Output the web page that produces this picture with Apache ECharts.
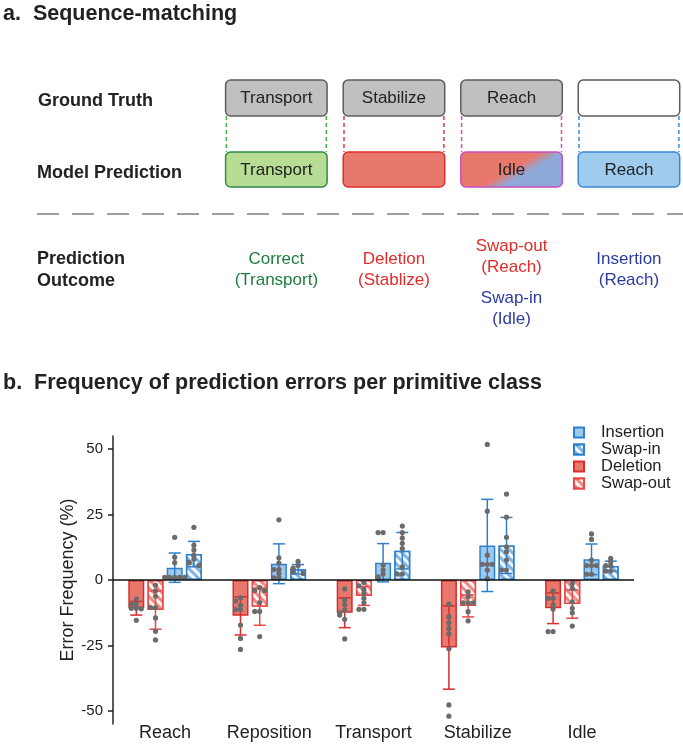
<!DOCTYPE html>
<html><head><meta charset="utf-8">
<script src="https://cdn.jsdelivr.net/npm/echarts@6/dist/echarts.min.js"></script>
<style>html,body{margin:0;padding:0;background:#fff}#c{width:683px;height:745px}</style>
</head><body><div id="c"></div>
<script>
// ---------- data ----------
const categories = ['Reach', 'Reposition', 'Transport', 'Stabilize', 'Idle'];
const yTickValues = [-50, -25, 0, 25, 50];
const legendOrder = ['Insertion', 'Swap-in', 'Deletion', 'Swap-out'];
const barOrder = ['Deletion', 'Swap-out', 'Insertion', 'Swap-in'];

const deletionMean = [-10.8, -13.7, -12.5, -25.8, -10.8];
const deletionSD = [2.6, 7.3, 5.7, 15.9, 5.85];
const swapOutMean = [-11.5, -10.2, -6.1, -9.9, -9.2];
const swapOutSD = [7.3, 7.1, 3.6, 4.2, 5.4];
const insertionMean = [4.7, 6.2, 6.6, 13.2, 7.9];
const insertionSD = [5.6, 7.6, 7.3, 17.6, 5.85];
const swapInMean = [9.9, 4.1, 11.2, 13.2, 5.3];
const swapInSD = [4.85, 1.8, 6.95, 10.7, 1.9];

const deletionDots = [
  [-7.3, -9.2, -9.2, -10.8, -10.8, -11.0, -15.4],
  [-6.8, -8.0, -9.6, -11.3, -11.3, -17.2, -22.3, -26.5],
  [-3.4, -7.6, -9.5, -11.5, -12.5, -13.4, -15.0, -22.5],
  [-9.2, -14.0, -16.3, -18.5, -20.6, -26.3, -47.7, -52.0],
  [-4.2, -7.0, -7.0, -9.5, -11.1, -19.7, -19.7]
];
const swapOutDots = [
  [-2.0, -4.1, -6.2, -10.5, -10.5, -14.5, -19.6, -22.9],
  [-2.9, -4.0, -4.0, -8.6, -12.0, -12.0, -21.6],
  [-1.0, -2.2, -3.6, -5.1, -7.0, -8.7, -11.2, -11.2],
  [-4.5, -6.4, -8.7, -8.7, -8.7, -12.1, -15.6],
  [-1.3, -3.2, -8.3, -10.8, -12.5, -17.6]
];
const insertionDots = [
  [16.3, 8.7, 6.6, 1.0, 1.0, 1.0, 1.0, 1.0],
  [23.0, 8.5, 6.5, 4.0, 4.0, 2.5, 0.8, 0.8],
  [18.1, 18.1, 5.7, 3.8, 2.3, 1.2, 0.6],
  [51.8, 26.3, 9.5, 6.0, 6.0, 6.0, 3.8, 0.5],
  [17.6, 15.5, 7.6, 5.5, 5.5, 5.5, 2.2, 2.2]
];
const swapInDots = [
  [20.1, 13.3, 11.5, 9.5, 8.0, 6.7, 6.5, 5.5],
  [7.1, 5.5, 4.5, 3.8, 3.0, 2.5],
  [20.6, 18.1, 16.0, 14.0, 12.0, 5.0, 2.3, 2.3],
  [32.8, 24.0, 16.3, 12.7, 10.8, 7.6, 3.8, 3.8],
  [8.3, 7.0, 5.5, 5.5, 3.4, 3.4]
];

// Panel a texts
const gtLabels = ['Transport', 'Stabilize', 'Reach', ''];
const mpLabels = ['Transport', '', 'Idle', 'Reach'];

// ---------- styles ----------
const FONT = "'Liberation Sans', Arial, Helvetica, sans-serif";
const TXT = '#222';
const RED_D = '#dc2b2b', RED_S = '#e84848', BLUE = '#2f80cc';
const means = [deletionMean, swapOutMean, insertionMean, swapInMean];
const sds = [deletionSD, swapOutSD, insertionSD, swapInSD];
const dots = [deletionDots, swapOutDots, insertionDots, swapInDots];
const errColors = [RED_D, RED_S, BLUE, BLUE];
const BAR_W = 16, BAR_GAP = 3.2;

const hatch = {
  symbol: 'rect', symbolSize: 1, dashArrayX: [1, 0], dashArrayY: [3, 3],
  rotation: Math.PI / 4, color: 'rgba(255,255,255,0.92)'
};
const barStyles = [
  { color: '#e8776c', borderColor: RED_D, borderWidth: 1.5 },
  { color: '#f08a84', borderColor: RED_S, borderWidth: 1.5, decal: hatch },
  { color: '#9ec9ee', borderColor: BLUE, borderWidth: 1.5 },
  { color: '#7fb6e6', borderColor: BLUE, borderWidth: 1.5, decal: hatch }
];

// ---------- build series ----------
const series = barOrder.map((name, t) => ({
  name, type: 'bar', data: means[t], barWidth: BAR_W, barGap: (BAR_GAP / BAR_W * 100) + '%',
  itemStyle: barStyles[t], z: 2,
  markLine: t === 0 ? {
    silent: true, symbol: 'none', label: { show: false },
    lineStyle: { color: '#111', width: 1.5, type: 'solid' },
    data: [{ yAxis: 0 }], z: 5
  } : undefined
}));

const errData = [];
const dotData = [];
for (let t = 0; t < 4; t++) {
  for (let c = 0; c < categories.length; c++) {
    errData.push([c, t, means[t][c] - sds[t][c], means[t][c] + sds[t][c]]);
    const placed = [];
    dots[t][c].forEach(v => {
      const n = placed.filter(p => Math.abs(p - v) < 1.3).length;
      const off = n === 0 ? 0 : (n % 2 === 1 ? -1 : 1) * Math.ceil(n / 2) * 5;
      placed.push(v);
      dotData.push([c, t, v, off]);
    });
  }
}
function groupOffset(t) { return (t - 1.5) * (BAR_W + BAR_GAP); }

series.push({
  type: 'custom', name: 'err', z: 3, silent: true,
  data: errData, encode: { x: 0, y: [2, 3] },
  renderItem(params, api) {
    const c = api.value(0), t = api.value(1);
    const lo = api.coord([c, api.value(2)]), hi = api.coord([c, api.value(3)]);
    const x = lo[0] + groupOffset(t);
    const col = errColors[t];
    const cap = 6;
    const st = { stroke: col, lineWidth: 1.5 };
    return { type: 'group', children: [
      { type: 'line', shape: { x1: x, y1: lo[1], x2: x, y2: hi[1] }, style: st },
      { type: 'line', shape: { x1: x - cap, y1: lo[1], x2: x + cap, y2: lo[1] }, style: st },
      { type: 'line', shape: { x1: x - cap, y1: hi[1], x2: x + cap, y2: hi[1] }, style: st }
    ]};
  }
});
series.push({
  type: 'custom', name: 'dots', z: 4, silent: true,
  data: dotData, encode: { x: 0, y: 2 },
  renderItem(params, api) {
    const c = api.value(0), t = api.value(1);
    const p = api.coord([c, api.value(2)]);
    return { type: 'circle', shape: { cx: p[0] + groupOffset(t) + api.value(3), cy: p[1], r: 2.6 },
      style: { fill: '#6b6b6b' } };
  }
});

// ---------- panel a graphics ----------
const boxX = [225.6, 343.2, 460.8, 578.2];
const BOX_W = 101.5;
const gtY = 80, gtH = 36, mpY = 152, mpH = 35;
const connColors = ['#43b04a', '#e03a3a', '#cc4fc4', '#3a8ad6'];
const mpFill = ['#b7dc93', '#e8786c', null, '#9fcbee'];
const mpStroke = ['#2e8b48', '#e02c2a', '#c550bd', '#3a86d3'];
const g = [];
function txt(text, x, y, opts) {
  g.push(Object.assign({ type: 'text', x, y, z: 10, style: Object.assign({
    text, fill: TXT, fontSize: 17, fontFamily: FONT, textAlign: 'center', textVerticalAlign: 'middle'
  }, opts || {}) }));
}
txt('a.  Sequence-matching', 3, 14, { fontSize: 21.5, fontWeight: 'bold', textAlign: 'left' });
txt('b.  Frequency of prediction errors per primitive class', 3, 383, { fontSize: 21.5, fontWeight: 'bold', textAlign: 'left' });
txt('Ground Truth', 38, 101, { fontSize: 18, fontWeight: 'bold', textAlign: 'left' });
txt('Model Prediction', 37, 173, { fontSize: 18, fontWeight: 'bold', textAlign: 'left' });
txt('Prediction', 37, 259, { fontSize: 18, fontWeight: 'bold', textAlign: 'left' });
txt('Outcome', 37, 281, { fontSize: 18, fontWeight: 'bold', textAlign: 'left' });

boxX.forEach((x, i) => {
  [x + 0.8, x + BOX_W - 0.8].forEach(lx => g.push({ type: 'line', z: 1,
    shape: { x1: lx, y1: gtY + gtH, x2: lx, y2: mpY },
    style: { stroke: connColors[i], lineWidth: 1.5, lineDash: [4, 3] } }));
  g.push({ type: 'rect', z: 2, shape: { x, y: gtY, width: BOX_W, height: gtH, r: 5 },
    style: { fill: i === 3 ? '#ffffff' : '#c0c0c0', stroke: '#5c5c5c', lineWidth: 1.5 } });
  if (gtLabels[i]) txt(gtLabels[i], x + BOX_W / 2, gtY + gtH / 2 + 0.5);
  let fill = mpFill[i];
  if (!fill) {
    const cx = x + BOX_W / 2 + 8, cy = mpY + mpH / 2;
    fill = new echarts.graphic.LinearGradient(cx - 14, cy - 24, cx + 14, cy + 24, [
      { offset: 0, color: '#e8786c' }, { offset: 0.42, color: '#e8786c' },
      { offset: 0.62, color: '#8ea9d9' }, { offset: 1, color: '#8ea9d9' }], true);
  }
  g.push({ type: 'rect', z: 2, shape: { x, y: mpY, width: BOX_W, height: mpH, r: 5 },
    style: { fill, stroke: mpStroke[i], lineWidth: 1.5 } });
  if (mpLabels[i]) txt(mpLabels[i], x + BOX_W / 2, mpY + mpH / 2 + 1);
});
g.push({ type: 'line', z: 1, shape: { x1: 37, y1: 214, x2: 683, y2: 214 },
  style: { stroke: '#a0a0a0', lineWidth: 2, lineDash: [22, 13] } });

const GREEN_T = '#1f7d3f', RED_T = '#e22b2b', BLUE_T = '#2d3b9c';
txt('Correct', boxX[0] + BOX_W / 2, 259, { fill: GREEN_T });
txt('(Transport)', boxX[0] + BOX_W / 2, 280, { fill: GREEN_T });
txt('Deletion', boxX[1] + BOX_W / 2, 259, { fill: RED_T });
txt('(Stablize)', boxX[1] + BOX_W / 2, 280, { fill: RED_T });
txt('Swap-out', boxX[2] + BOX_W / 2, 246, { fill: RED_T });
txt('(Reach)', boxX[2] + BOX_W / 2, 267, { fill: RED_T });
txt('Swap-in', boxX[2] + BOX_W / 2, 298, { fill: BLUE_T });
txt('(Idle)', boxX[2] + BOX_W / 2, 319, { fill: BLUE_T });
txt('Insertion', boxX[3] + BOX_W / 2, 259, { fill: BLUE_T });
txt('(Reach)', boxX[3] + BOX_W / 2, 280, { fill: BLUE_T });

// ---------- chart ----------
const chart = echarts.init(document.getElementById('c'), null, { renderer: 'canvas' });
chart.setOption({
  animation: false,
  backgroundColor: '#fff',
  textStyle: { fontFamily: FONT },
  graphic: g,
  legend: {
    data: legendOrder, orient: 'vertical', left: 573, top: 424, padding: 0,
    itemWidth: 10, itemHeight: 10, itemGap: 0, icon: 'rect',
    textStyle: { fontSize: 16.5, color: TXT, lineHeight: 16, padding: [0, 0, 0, 12], fontFamily: FONT },
    selectedMode: false
  },
  grid: { left: 113, right: 49, top: 436, bottom: 21, containLabel: false },
  xAxis: {
    type: 'category', data: categories,
    axisLine: { show: false }, axisTick: { show: false },
    axisLabel: { fontSize: 18, color: TXT, margin: 0, fontFamily: FONT, interval: 0 }
  },
  yAxis: {
    type: 'value', min: -55, max: 55,
    name: 'Error Frequency (%)', nameLocation: 'middle', nameGap: 36, nameMoveOverlap: false,
    nameTextStyle: { fontSize: 18, color: TXT, fontFamily: FONT },
    axisLine: { show: true, lineStyle: { color: '#222', width: 1.5 } },
    axisTick: { show: true, length: 5, customValues: yTickValues, lineStyle: { color: '#222', width: 1.5 } },
    axisLabel: { customValues: yTickValues, fontSize: 15, color: TXT, margin: 10, fontFamily: FONT },
    splitLine: { show: false }
  },
  series
});
</script></body></html>
